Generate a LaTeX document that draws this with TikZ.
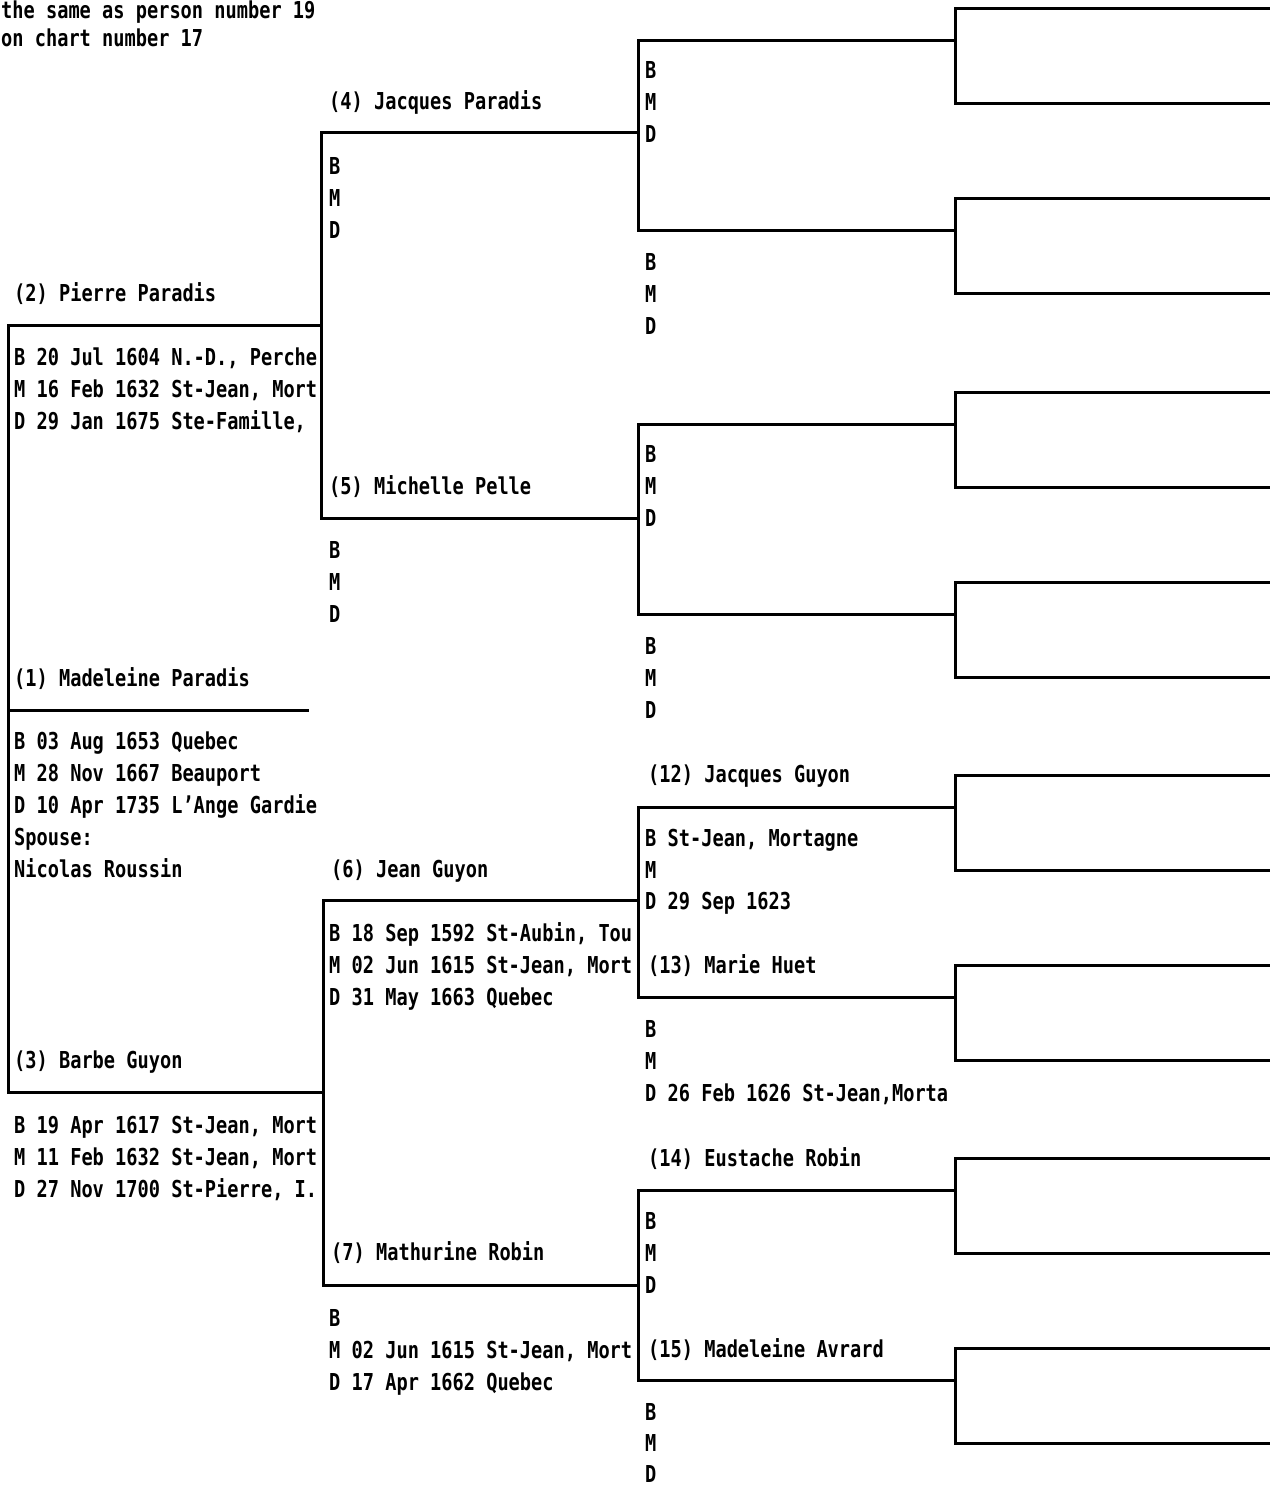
\documentclass[tikz,border=0pt]{standalone}
\usepackage{fontspec}
\newfontfamily\dm{DejaVu Sans Mono}[FakeStretch=0.8]
\tikzset{
  lbl/.style={anchor=base west, inner sep=0pt, font=\dm\bfseries\fontsize{23.3}{28}\selectfont},
  ln/.style={line width=3pt, line join=miter, line cap=rect}
}
\newcommand\tx[4]{\node[lbl] (#1) at (#2,#3+8.5) {#4};}
\begin{document}
\begin{tikzpicture}[x=1pt,y=-1pt]
\path[use as bounding box, fill=white] (0,0) rectangle (1270,1486);

% ---------- top note ----------
\tx{t1}{1}{9.5}{the same as person number 19}
\tx{t2}{1}{38}{on chart number 17}

% ---------- generation 1 ----------
\tx{n2}{14}{293}{(2) Pierre Paradis}
\tx{n2b}{14}{357}{B 20 Jul 1604 N.-D., Perche}
\tx{n2m}{14}{389}{M 16 Feb 1632 St-Jean, Mort}
\tx{n2d}{14}{421}{D 29 Jan 1675 Ste-Famille,}

\tx{n1}{14}{678}{(1) Madeleine Paradis}
\tx{n1b}{14}{741}{B 03 Aug 1653 Quebec}
\tx{n1m}{14}{773}{M 28 Nov 1667 Beauport}
\tx{n1d}{14}{805}{D 10 Apr 1735 L’Ange Gardie}
\tx{n1s}{14}{837}{Spouse:}
\tx{n1n}{14}{869}{Nicolas Roussin}

\tx{n3}{14}{1060}{(3) Barbe Guyon}
\tx{n3b}{14}{1125}{B 19 Apr 1617 St-Jean, Mort}
\tx{n3m}{14}{1157}{M 11 Feb 1632 St-Jean, Mort}
\tx{n3d}{14}{1189}{D 27 Nov 1700 St-Pierre, I.}

% ---------- generation 2 ----------
\tx{n4}{329}{101}{(4) Jacques Paradis}
\tx{n4b}{329}{166}{B}
\tx{n4m}{329}{198}{M}
\tx{n4d}{329}{230}{D}

\tx{n5}{329}{486}{(5) Michelle Pelle}
\tx{n5b}{329}{550}{B}
\tx{n5m}{329}{582}{M}
\tx{n5d}{329}{614}{D}

\tx{n6}{331}{869}{(6) Jean Guyon}
\tx{n6b}{329}{933}{B 18 Sep 1592 St-Aubin, Tou}
\tx{n6m}{329}{965}{M 02 Jun 1615 St-Jean, Mort}
\tx{n6d}{329}{997}{D 31 May 1663 Quebec}

\tx{n7}{331}{1252}{(7) Mathurine Robin}
\tx{n7b}{329}{1318}{B}
\tx{n7m}{329}{1350}{M 02 Jun 1615 St-Jean, Mort}
\tx{n7d}{329}{1382}{D 17 Apr 1662 Quebec}

% ---------- generation 3 ----------
\tx{n8b}{645}{70}{B}
\tx{n8m}{645}{102}{M}
\tx{n8d}{645}{134}{D}
\tx{n9b}{645}{262}{B}
\tx{n9m}{645}{294}{M}
\tx{n9d}{645}{326}{D}
\tx{n10b}{645}{454}{B}
\tx{n10m}{645}{486}{M}
\tx{n10d}{645}{518}{D}
\tx{n11b}{645}{646}{B}
\tx{n11m}{645}{678}{M}
\tx{n11d}{645}{710}{D}

\tx{n12}{648}{774}{(12) Jacques Guyon}
\tx{n12b}{645}{838}{B St-Jean, Mortagne}
\tx{n12m}{645}{870}{M}
\tx{n12d}{645}{901}{D 29 Sep 1623}

\tx{n13}{648}{965}{(13) Marie Huet}
\tx{n13b}{645}{1029}{B}
\tx{n13m}{645}{1061}{M}
\tx{n13d}{645}{1093}{D 26 Feb 1626 St-Jean,Morta}

\tx{n14}{648}{1158}{(14) Eustache Robin}
\tx{n14b}{645}{1221}{B}
\tx{n14m}{645}{1253}{M}
\tx{n14d}{645}{1285}{D}

\tx{n15}{648}{1349}{(15) Madeleine Avrard}
\tx{n15b}{645}{1412}{B}
\tx{n15m}{645}{1443}{M}
\tx{n15d}{645}{1474}{D}

% ---------- connector coordinates ----------
\coordinate (c2l) at (8,325);   \coordinate (c2r) at (321,325);
\coordinate (c3l) at (8,1092);  \coordinate (c3r) at (323,1092);
\coordinate (c1l) at (8,710);   \coordinate (c1r) at (307,710);

\coordinate (c4l) at (321,132); \coordinate (c4r) at (638,132);
\coordinate (c5l) at (321,518); \coordinate (c5r) at (638,518);
\coordinate (c6l) at (323,900); \coordinate (c6r) at (638,900);
\coordinate (c7l) at (323,1285);\coordinate (c7r) at (638,1285);

\draw[ln] (c2r) -- (c2l) -- (c3l) -- (c3r);
\draw[ln] (c1l) -- (c1r);
\draw[ln] (c4r) -- (c4l) -- (c5l) -- (c5r);
\draw[ln] (c6r) -- (c6l) -- (c7l) -- (c7r);

% generation 3 brackets
\foreach \a/\ya/\b/\yb in {8/40/9/230, 10/424/11/614, 12/807/13/997, 14/1190/15/1380}{
  \coordinate (c\a l) at (638,\ya); \coordinate (c\a r) at (955,\ya);
  \coordinate (c\b l) at (638,\yb); \coordinate (c\b r) at (955,\yb);
  \draw[ln] (c\a r) -- (c\a l) -- (c\b l) -- (c\b r);
}
% generation 4 brackets
\foreach \n/\y in {8/40, 9/230, 10/424, 11/614, 12/807, 13/997, 14/1190, 15/1380}{
  \coordinate (f\n tl) at (955,\y-32);  \coordinate (f\n tr) at (1268,\y-32);
  \coordinate (f\n bl) at (955,\y+63);  \coordinate (f\n br) at (1268,\y+63);
  \draw[ln] (f\n tr) -- (f\n tl) -- (f\n bl) -- (f\n br);
}
\end{tikzpicture}
\end{document}
